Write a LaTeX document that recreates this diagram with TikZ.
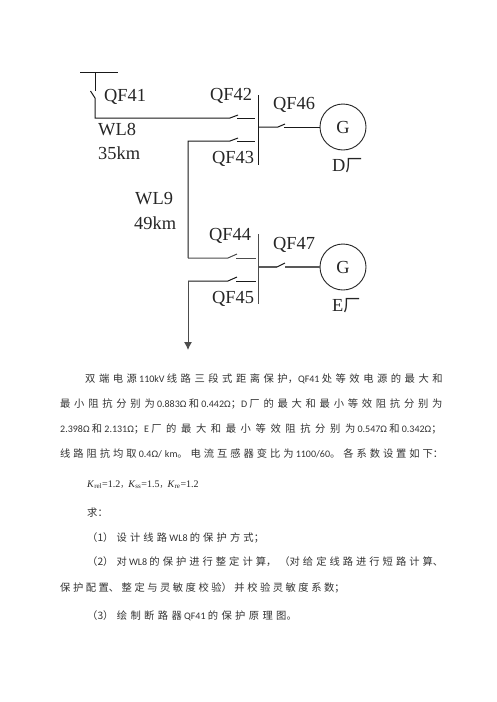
\documentclass[tikz,border=0pt]{standalone}
\usepackage{fontspec}
\setmainfont{Liberation Serif}
\newfontfamily\bodyfont{Carlito}
\newfontfamily\cjkfont{Noto Sans CJK SC}
\usetikzlibrary{arrows.meta}
\XeTeXlinebreaklocale "zh"
\XeTeXlinebreakskip=0pt plus 1fil
\newcommand{\cj}[1]{{\cjkfont\fontsize{10.3}{14}\selectfont #1}}
\tikzset{
  wire/.style={line width=1pt,black!90},
  lowwire/.style={line width=1pt,black!70},
  thickwire/.style={line width=1.8pt,black!65},
  lbl/.style={anchor=base west,inner sep=0pt,font=\fontsize{18.4}{20}\selectfont,text=black!85},
  gen/.style={circle,draw=black!85,line width=0.9pt,minimum size=46pt,inner sep=0pt,font=\fontsize{18.4}{20}\selectfont,text=black!85},
  para/.style={anchor=base west,inner sep=0pt,text=black!80,font=\bodyfont\fontsize{10}{14}\selectfont},
  spread/.style={para,text width=#1,align=justify},
}
\newcommand{\fl}{\tolerance=9999 \hbadness=10000 \parfillskip=0pt }
\begin{document}
\begin{tikzpicture}[x=1pt,y=-1pt]
\useasboundingbox (0,0) rectangle (496,702);
\fill[white] (0,0) rectangle (496,702);
% generators
\node[gen] (G1) at (343,127) {G};
\node[gen] (G2) at (343,267) {G};
% coordinates
\coordinate (barL) at (80,72); \coordinate (barR) at (118,72); \coordinate (a0) at (95,72);
\coordinate (a1) at (95,91); \coordinate (a2) at (95,98); \coordinate (a2b) at (90.5,91); \coordinate (a3) at (95,118);
\coordinate (b1) at (230,118); \coordinate (b1t) at (238,115); \coordinate (b2) at (237,118); \coordinate (b3) at (255,118);
\coordinate (c0) at (188,141); \coordinate (c1) at (230,141); \coordinate (c1t) at (238,138); \coordinate (c2) at (237,141); \coordinate (c3) at (255,141);
\coordinate (d0) at (188,258); \coordinate (d1) at (228,258); \coordinate (d1t) at (237,254); \coordinate (d2) at (236,258); \coordinate (d3) at (256,258);
\coordinate (e0) at (188,281); \coordinate (e1) at (228,281); \coordinate (e1t) at (237,277); \coordinate (e2) at (236,281); \coordinate (e3) at (256,281);
\coordinate (e4) at (188,350);
\coordinate (bus1t) at (258,95); \coordinate (bus1b) at (258,165);
\coordinate (bus2t) at (258,234); \coordinate (bus2b) at (258,304);
\coordinate (f0) at (259,127); \coordinate (f1) at (278,127); \coordinate (f1t) at (285,124); \coordinate (f2) at (284,127);
\coordinate (h0) at (259,267); \coordinate (h1) at (277,267); \coordinate (h1t) at (285,263); \coordinate (h2) at (285,267);
% wiring
\draw[wire] (barL) -- (barR);
\draw[wire] (a0) -- (a1);
\draw[wire] (a2) -- (a2b);
\draw[wire] (a2) -- (a3) -- (b1) -- (b1t);
\draw[wire] (b2) -- (b3);
\draw[wire] (c1t) -- (c1) -- (c0) -- (d0);
\draw[wire] (c2) -- (c3);
\draw[lowwire] (d0) -- (d1) -- (d1t);
\draw[lowwire] (d2) -- (d3);
\draw[wire] (e1t) -- (e1) -- (e0);
\draw[wire] (e2) -- (e3);
\draw[lowwire,-{Latex[length=8pt,width=8pt]}] (e0) -- (e4);
\draw[wire] (bus1t) -- (bus1b);
\draw[lowwire] (bus2t) -- (bus2b);
\draw[wire] (f0) -- (f1) -- (f1t);
\draw[wire] (f2) -- (G1.west);
\draw[thickwire] (h0) -- (h1);
\draw[wire] (h1) -- (h1t);
\draw[thickwire] (h2) -- (G2.west);
% labels
\node[lbl] (qf41) at (104,101) {QF41};
\node[lbl] (qf42) at (210,100) {QF42};
\node[lbl] (qf46) at (273,109) {QF46};
\node[lbl] (qf43) at (212,163) {QF43};
\node[lbl] (wl8) at (98,135) {WL8};
\node[lbl] (km35) at (98,159) {35km};
\node[lbl] (wl9) at (135,204) {WL9};
\node[lbl] (km49) at (134,229) {49km};
\node[lbl] (qf44) at (209,240) {QF44};
\node[lbl] (qf47) at (273,249) {QF47};
\node[lbl] (qf45) at (212,303) {QF45};
\node[lbl] (dp) at (332,171) {D{\cjkfont\fontsize{17}{20}\selectfont 厂}};
\node[lbl] (ep) at (332,311) {E{\cjkfont\fontsize{17}{20}\selectfont 厂}};
% body text
\node[spread=361pt] (t1) at (85,382) {\fl\cj{双端电源} 110kV \cj{线路三段式距离保护}\cj{，}QF41 \cj{处等效电源的最大和}};
\node[spread=386pt] (t2) at (60,407) {\fl\cj{最小阻抗分别为} 0.883Ω \cj{和} 0.442Ω\cj{；}D \cj{厂的最大和最小等效阻抗分别为}};
\node[spread=386pt] (t3) at (60,432) {\fl 2.398Ω \cj{和} 2.131Ω\cj{；}E \cj{厂的最大和最小等效阻抗分别为} 0.547Ω \cj{和} 0.342Ω\cj{；}};
\node[spread=386pt] (t4) at (60,457) {\fl\cj{线路阻抗均取} 0.4Ω/km\cj{。电流互感器变比为} 1100/60\cj{。各系数设置如下：}};
\node[para,font=\fontsize{10}{12}\selectfont,text=black!85] (t5) at (87,487) {\textit{K}\textsubscript{rel}=1.2{\cjkfont\fontsize{8}{12}\selectfont ，}\textit{K}\textsubscript{ss}=1.5{\cjkfont\fontsize{8}{12}\selectfont ，}\textit{K}\textsubscript{re}=1.2};
\node[spread=20pt] (t6) at (87,516) {\fl\cj{求：}};
\node[spread=180pt] (t7) at (87,541) {\fl\cj{（1）设计线路} WL8 \cj{的保护方式；}};
\node[spread=359pt] (t8) at (87,565) {\fl\cj{（2）对} WL8 \cj{的保护进行整定计算，（对给定线路进行短路计算、}};
\node[spread=287pt] (t9) at (60,591) {\fl\cj{保护配置、整定与灵敏度校验）并校验灵敏度系数；}};
\node[spread=213pt] (t10) at (87,619) {\fl\cj{（3）绘制断路器} QF41 \cj{的保护原理图。}};
\end{tikzpicture}
\end{document}
